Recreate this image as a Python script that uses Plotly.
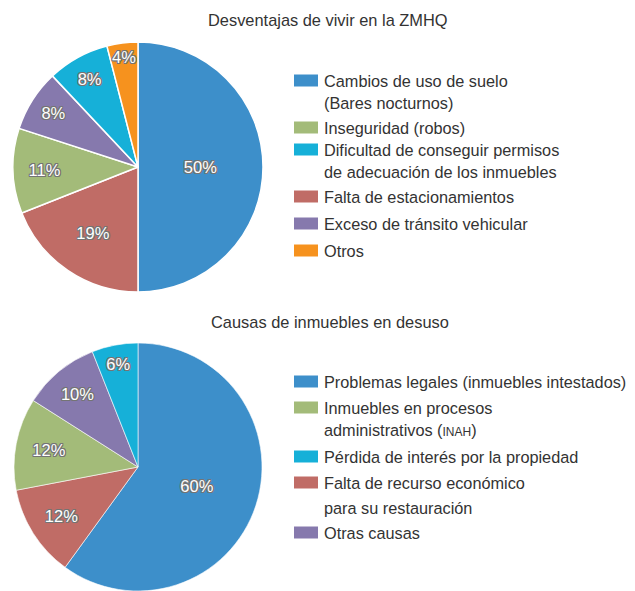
import plotly.graph_objects as go

# ---------------- data ----------------
title1 = "Desventajas de vivir en la ZMHQ"
labels1 = [
    "Cambios de uso de suelo<br>(Bares nocturnos)",
    "Falta de estacionamientos",
    "Inseguridad (robos)",
    "Exceso de tránsito vehicular",
    "Dificultad de conseguir permisos<br>de adecuación de los inmuebles",
    "Otros",
]
values1 = [50, 19, 11, 8, 8, 4]
legend_order1 = [0, 2, 4, 1, 3, 5]

title2 = "Causas de inmuebles en desuso"
labels2 = [
    "Problemas legales (inmuebles intestados)",
    "Falta de recurso económico<br>para su restauración",
    "Inmuebles en procesos<br>administrativos (<span style='font-size:12px'>INAH</span>)",
    "Otras causas",
    "Pérdida de interés por la propiedad",
]
values2 = [60, 12, 12, 10, 6]
legend_order2 = [0, 2, 4, 1, 3]

# ---------------- styles / layout ----------------
OFF = 8                      # default page body margin
W, H = 635 - OFF, 591 - OFF  # figure size so it fits the window
FONT = "Liberation Sans, Arial, Helvetica, sans-serif"
TXT = "#333333"
BLUE, RED, GREEN, PURPLE, CYAN, ORANGE = "#3d8fca", "#c06c66", "#a3bb79", "#8679ad", "#16b0d8", "#f6921e"
colors1 = [BLUE, RED, GREEN, PURPLE, CYAN, ORANGE]
colors2 = [BLUE, RED, GREEN, PURPLE, CYAN]

# legend line centres (window px from top), one list per legend entry (in legend order)
legend_lines1 = [[81, 103], [128], [150, 172], [197], [224], [251]]
legend_lines2 = [[382], [408, 430], [457], [483, 508], [533]]
SW_X0, SW_X1, TXT_X = 294, 318, 323


def px(x):
    return (x - OFF) / W


def py(y):
    return 1 - (y - OFF) / H


shadow = ("1px 1px 0 #747474, -1px -1px 0 #747474, 1px -1px 0 #747474, "
          "-1px 1px 0 #747474, 0 1px 0 #747474, 0 -1px 0 #747474, 1px 0 0 #747474, -1px 0 0 #747474")

fig = go.Figure()

fig.add_trace(go.Pie(
    labels=[l.replace("<br>", " ") for l in labels1], values=values1,
    sort=False, direction="clockwise", rotation=0,
    marker=dict(colors=colors1, line=dict(color="white", width=1.5)),
    texttemplate="%{value}%", textposition="inside", insidetextorientation="horizontal",
    textfont=dict(family=FONT, size=16.5, color="white", shadow=shadow),
    hoverinfo="skip", showlegend=False,
    domain=dict(x=[px(13), px(263)], y=[py(292), py(42)]),
))

fig.add_trace(go.Pie(
    labels=[l.replace("<br>", " ") for l in labels2], values=values2,
    sort=False, direction="clockwise", rotation=0,
    marker=dict(colors=colors2, line=dict(color="white", width=0.6)),
    texttemplate="%{value}%", textposition="inside", insidetextorientation="horizontal",
    textfont=dict(family=FONT, size=16.5, color="white", shadow=shadow),
    hoverinfo="skip", showlegend=False,
    domain=dict(x=[px(13), px(263)], y=[0, py(343)]),
))

annotations = [
    dict(text=title1, x=px(328), y=py(20), xref="paper", yref="paper",
         xanchor="center", yanchor="middle", showarrow=False,
         font=dict(family=FONT, size=16.4, color=TXT)),
    dict(text=title2, x=px(330), y=py(322), xref="paper", yref="paper",
         xanchor="center", yanchor="middle", showarrow=False,
         font=dict(family=FONT, size=16.4, color=TXT)),
]
shapes = []


def build_legend(labels, colors, order, lines):
    for k, idx in enumerate(order):
        ys = lines[k]
        parts = labels[idx].split("<br>")
        yc = ys[0]
        shapes.append(dict(type="rect", xref="paper", yref="paper",
                           x0=px(SW_X0), x1=px(SW_X1), y0=py(yc - 6.5), y1=py(yc + 5.5),
                           fillcolor=colors[idx], line=dict(width=0)))
        for part, y in zip(parts, ys):
            annotations.append(dict(text=part, x=px(TXT_X), y=py(y), xref="paper", yref="paper",
                                    xanchor="left", yanchor="middle", showarrow=False,
                                    borderpad=0,
                                    font=dict(family=FONT, size=16.3, color=TXT)))


build_legend(labels1, colors1, legend_order1, legend_lines1)
build_legend(labels2, colors2, legend_order2, legend_lines2)

fig.update_layout(
    width=W, height=H, autosize=False,
    margin=dict(l=0, r=0, t=0, b=0),
    paper_bgcolor="white", plot_bgcolor="white",
    showlegend=False,
    uniformtext=dict(minsize=16, mode="show"),
    annotations=annotations, shapes=shapes,
)

fig.write_html("out.html")
